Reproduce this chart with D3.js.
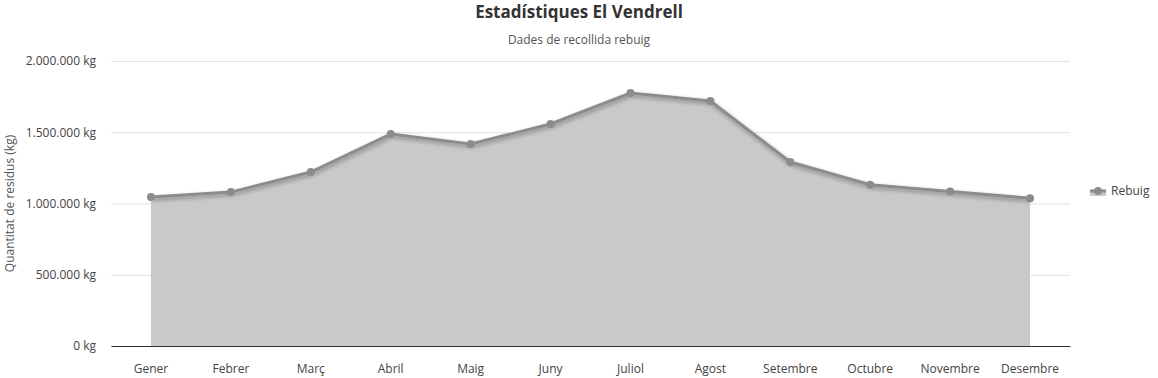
<!DOCTYPE html>
<html>
<head>
<meta charset="utf-8">
<script src="https://cdn.jsdelivr.net/npm/d3@7"></script>
<style>
  body { margin: 0; background: #fff; }
  text { font-family: "Open Sans", "Noto Sans", sans-serif; }
</style>
</head>
<body>
<svg id="chart" width="1158" height="378"></svg>
<script>
// Data
const months = ['Gener', 'Febrer', 'Març', 'Abril', 'Maig', 'Juny', 'Juliol', 'Agost', 'Setembre', 'Octubre', 'Novembre', 'Desembre'];
const rebuig = [1045000, 1080000, 1221000, 1487000, 1417000, 1558000, 1775000, 1719000, 1291000, 1132000, 1085000, 1037000];
const yTicks = [0, 500000, 1000000, 1500000, 2000000];

const svg = d3.select('#chart');
const margin = { top: 61, right: 88, bottom: 32, left: 111 };
const width = 1158 - margin.left - margin.right;
const height = 378 - margin.top - margin.bottom;

const fmt = v => d3.format(',')(v).replace(/,/g, '.') + ' kg';

const x = d3.scaleBand().domain(months).range([0, width]);
const y = d3.scaleLinear().domain([0, 2000000]).range([height, 0]);

const defs = svg.append('defs');
const filt = defs.append('filter').attr('id', 'shadow')
  .attr('x', '-5%').attr('y', '-20%').attr('width', '110%').attr('height', '140%');
filt.append('feGaussianBlur').attr('in', 'SourceAlpha').attr('stdDeviation', 2);
filt.append('feOffset').attr('dx', 1).attr('dy', 2).attr('result', 'b');
filt.append('feComponentTransfer').append('feFuncA').attr('type', 'linear').attr('slope', 0.35);
const merge = filt.append('feMerge');
merge.append('feMergeNode');
merge.append('feMergeNode').attr('in', 'SourceGraphic');

const g = svg.append('g').attr('transform', `translate(${margin.left},${margin.top})`);

// Grid
g.append('g')
  .call(d3.axisLeft(y).tickValues(yTicks).tickSize(-width).tickFormat(fmt).tickPadding(15))
  .call(a => a.select('.domain').remove())
  .call(a => a.selectAll('line').attr('stroke', '#e3e3e3'))
  .call(a => a.selectAll('text').attr('fill', '#444').attr('font-size', 12));

const cx = d => x(d) + x.bandwidth() / 2;

// Area
g.append('path')
  .datum(months)
  .attr('fill', '#c9c9c9')
  .attr('d', d3.area().x(d => cx(d)).y0(height).y1((d, i) => y(rebuig[i])));

// Line
g.append('path')
  .datum(months)
  .attr('fill', 'none')
  .attr('stroke', '#8c8c8c')
  .attr('stroke-width', 3)
  .attr('filter', 'url(#shadow)')
  .attr('d', d3.line().x(d => cx(d)).y((d, i) => y(rebuig[i])));

g.selectAll('circle.pt')
  .data(months)
  .join('circle')
  .attr('class', 'pt')
  .attr('cx', d => cx(d))
  .attr('cy', (d, i) => y(rebuig[i]))
  .attr('r', 4)
  .attr('fill', '#8c8c8c');

// X axis
g.append('g')
  .attr('transform', `translate(0,${height})`)
  .call(d3.axisBottom(x).tickSize(0).tickPadding(18))
  .call(a => a.select('.domain').attr('stroke', '#333'))
  .call(a => a.selectAll('text').attr('fill', '#444').attr('font-size', 12));

// Y axis title
svg.append('text')
  .attr('transform', `translate(14,${margin.top + height / 2}) rotate(-90)`)
  .attr('text-anchor', 'middle')
  .attr('fill', '#555')
  .attr('font-size', 12)
  .text('Quantitat de residus (kg)');

// Title
svg.append('text')
  .attr('x', 579).attr('y', 18)
  .attr('text-anchor', 'middle')
  .attr('font-size', 17).attr('font-weight', 'bold').attr('fill', '#333')
  .text('Estadístiques El Vendrell');

svg.append('text')
  .attr('x', 579).attr('y', 44)
  .attr('text-anchor', 'middle')
  .attr('font-size', 12).attr('fill', '#555')
  .text('Dades de recollida rebuig');

// Legend
const lg = svg.append('g').attr('transform', 'translate(1090,191)');
lg.append('rect').attr('x', 0).attr('y', 0).attr('width', 16).attr('height', 5).attr('fill', '#c9c9c9');
lg.append('line').attr('x1', 0).attr('x2', 16).attr('y1', 0).attr('y2', 0).attr('stroke', '#8c8c8c').attr('stroke-width', 3);
lg.append('circle').attr('cx', 8).attr('cy', 0).attr('r', 4).attr('fill', '#8c8c8c');
lg.append('text').attr('x', 21).attr('y', 4).attr('font-size', 12).attr('fill', '#444').text('Rebuig');
</script>
</body>
</html>
